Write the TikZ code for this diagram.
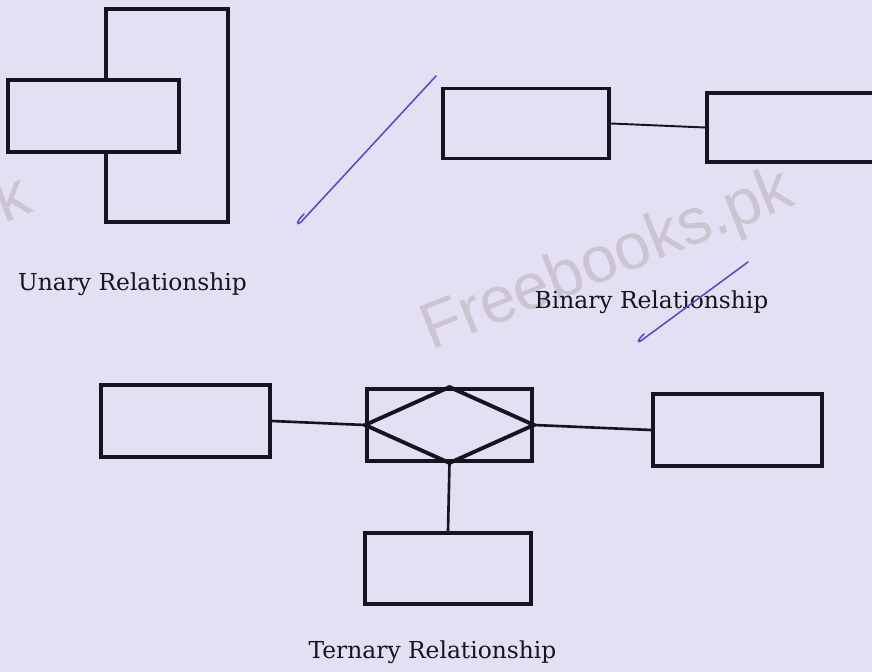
\documentclass[tikz,border=0pt]{standalone}
\usepackage{fontspec}
\setmainfont{DejaVu Serif}
\newfontfamily\wmfont{Liberation Sans}
\usepackage{tikz}
\usetikzlibrary{positioning}
\definecolor{paper}{RGB}{226,224,242}
\definecolor{inkc}{RGB}{22,20,30}
\definecolor{penc}{RGB}{88,78,196}
\definecolor{wmc}{RGB}{204,196,208}
\tikzset{
  entity/.style={draw=inkc,line width=2.2pt,fill=paper,inner sep=0pt},
  link/.style={draw=inkc,line width=1.5pt},
  caption/.style={font=\fontsize{13.3}{16}\selectfont,text=inkc,inner sep=0pt,anchor=base},
  wmark/.style={font=\wmfont\fontsize{37}{40}\selectfont,text=wmc,rotate=21.7,inner sep=0pt}
}

\begin{document}
\begin{tikzpicture}[x=0.02cm,y=-0.02cm]
  \fill[paper] (0,0) rectangle (872,672);
  \useasboundingbox (0,0) rectangle (872,672);
  \clip (0,0) rectangle (872,672);
  % watermark
  \node[wmark] (wm) at (608,262) {Freebooks.pk};
  \node[wmark,anchor=south east] (wmb) at (40,224) {Freebooks.pk};
  % unary
  \node[entity,minimum width=122*0.02cm,minimum height=213*0.02cm] (ut) at (167,115.5) {};
  \node[entity,minimum width=171*0.02cm,minimum height=72*0.02cm] (uh) at (93.5,116) {};
  \node[caption] (ul) at (132.5,290) {Unary Relationship};
  % binary
  \node[entity,minimum width=166*0.02cm,minimum height=70*0.02cm] (bl) at (526,123.5) {};
  \node[entity,minimum width=183*0.02cm,minimum height=69*0.02cm] (br) at (798.5,127.5) {};
  \draw[link,line width=1.1pt] (bl.east) -- (br.west);
  \node[caption] (bc) at (651.5,308) {Binary Relationship};
  % ternary
  \node[entity,minimum width=169*0.02cm,minimum height=72*0.02cm] (tl) at (185.5,421) {};
  \node[entity,minimum width=165*0.02cm,minimum height=72*0.02cm] (rel) at (449.5,425) {};
  \node[entity,minimum width=169*0.02cm,minimum height=72*0.02cm] (tr) at (737.5,430) {};
  \node[entity,minimum width=166*0.02cm,minimum height=71*0.02cm] (tb) at (448,568.5) {};
  \draw[link,line width=2.2pt,line join=miter] (rel.north) -- (rel.east) -- (rel.south) -- (rel.west) -- cycle;
  \draw[link] (tl.east) -- (rel.west);
  \draw[link] (rel.east) -- (tr.west);
  \draw[link] (rel.south) -- (tb.north);
  \node[caption] (tc) at (432.5,658) {Ternary Relationship};
  % pen ticks
  \coordinate (p1) at (304,214); \coordinate (q1) at (436,76);
  \coordinate (p2) at (644,334); \coordinate (q2) at (748,262);
  \draw[penc,line width=0.9pt,line cap=round] (p1) .. controls (296,222) and (296,226) .. (301,222) -- (q1);
  \draw[penc,line width=0.9pt,line cap=round] (p2) .. controls (637,340) and (637,344) .. (642,340) -- (q2);
\end{tikzpicture}
\end{document}
